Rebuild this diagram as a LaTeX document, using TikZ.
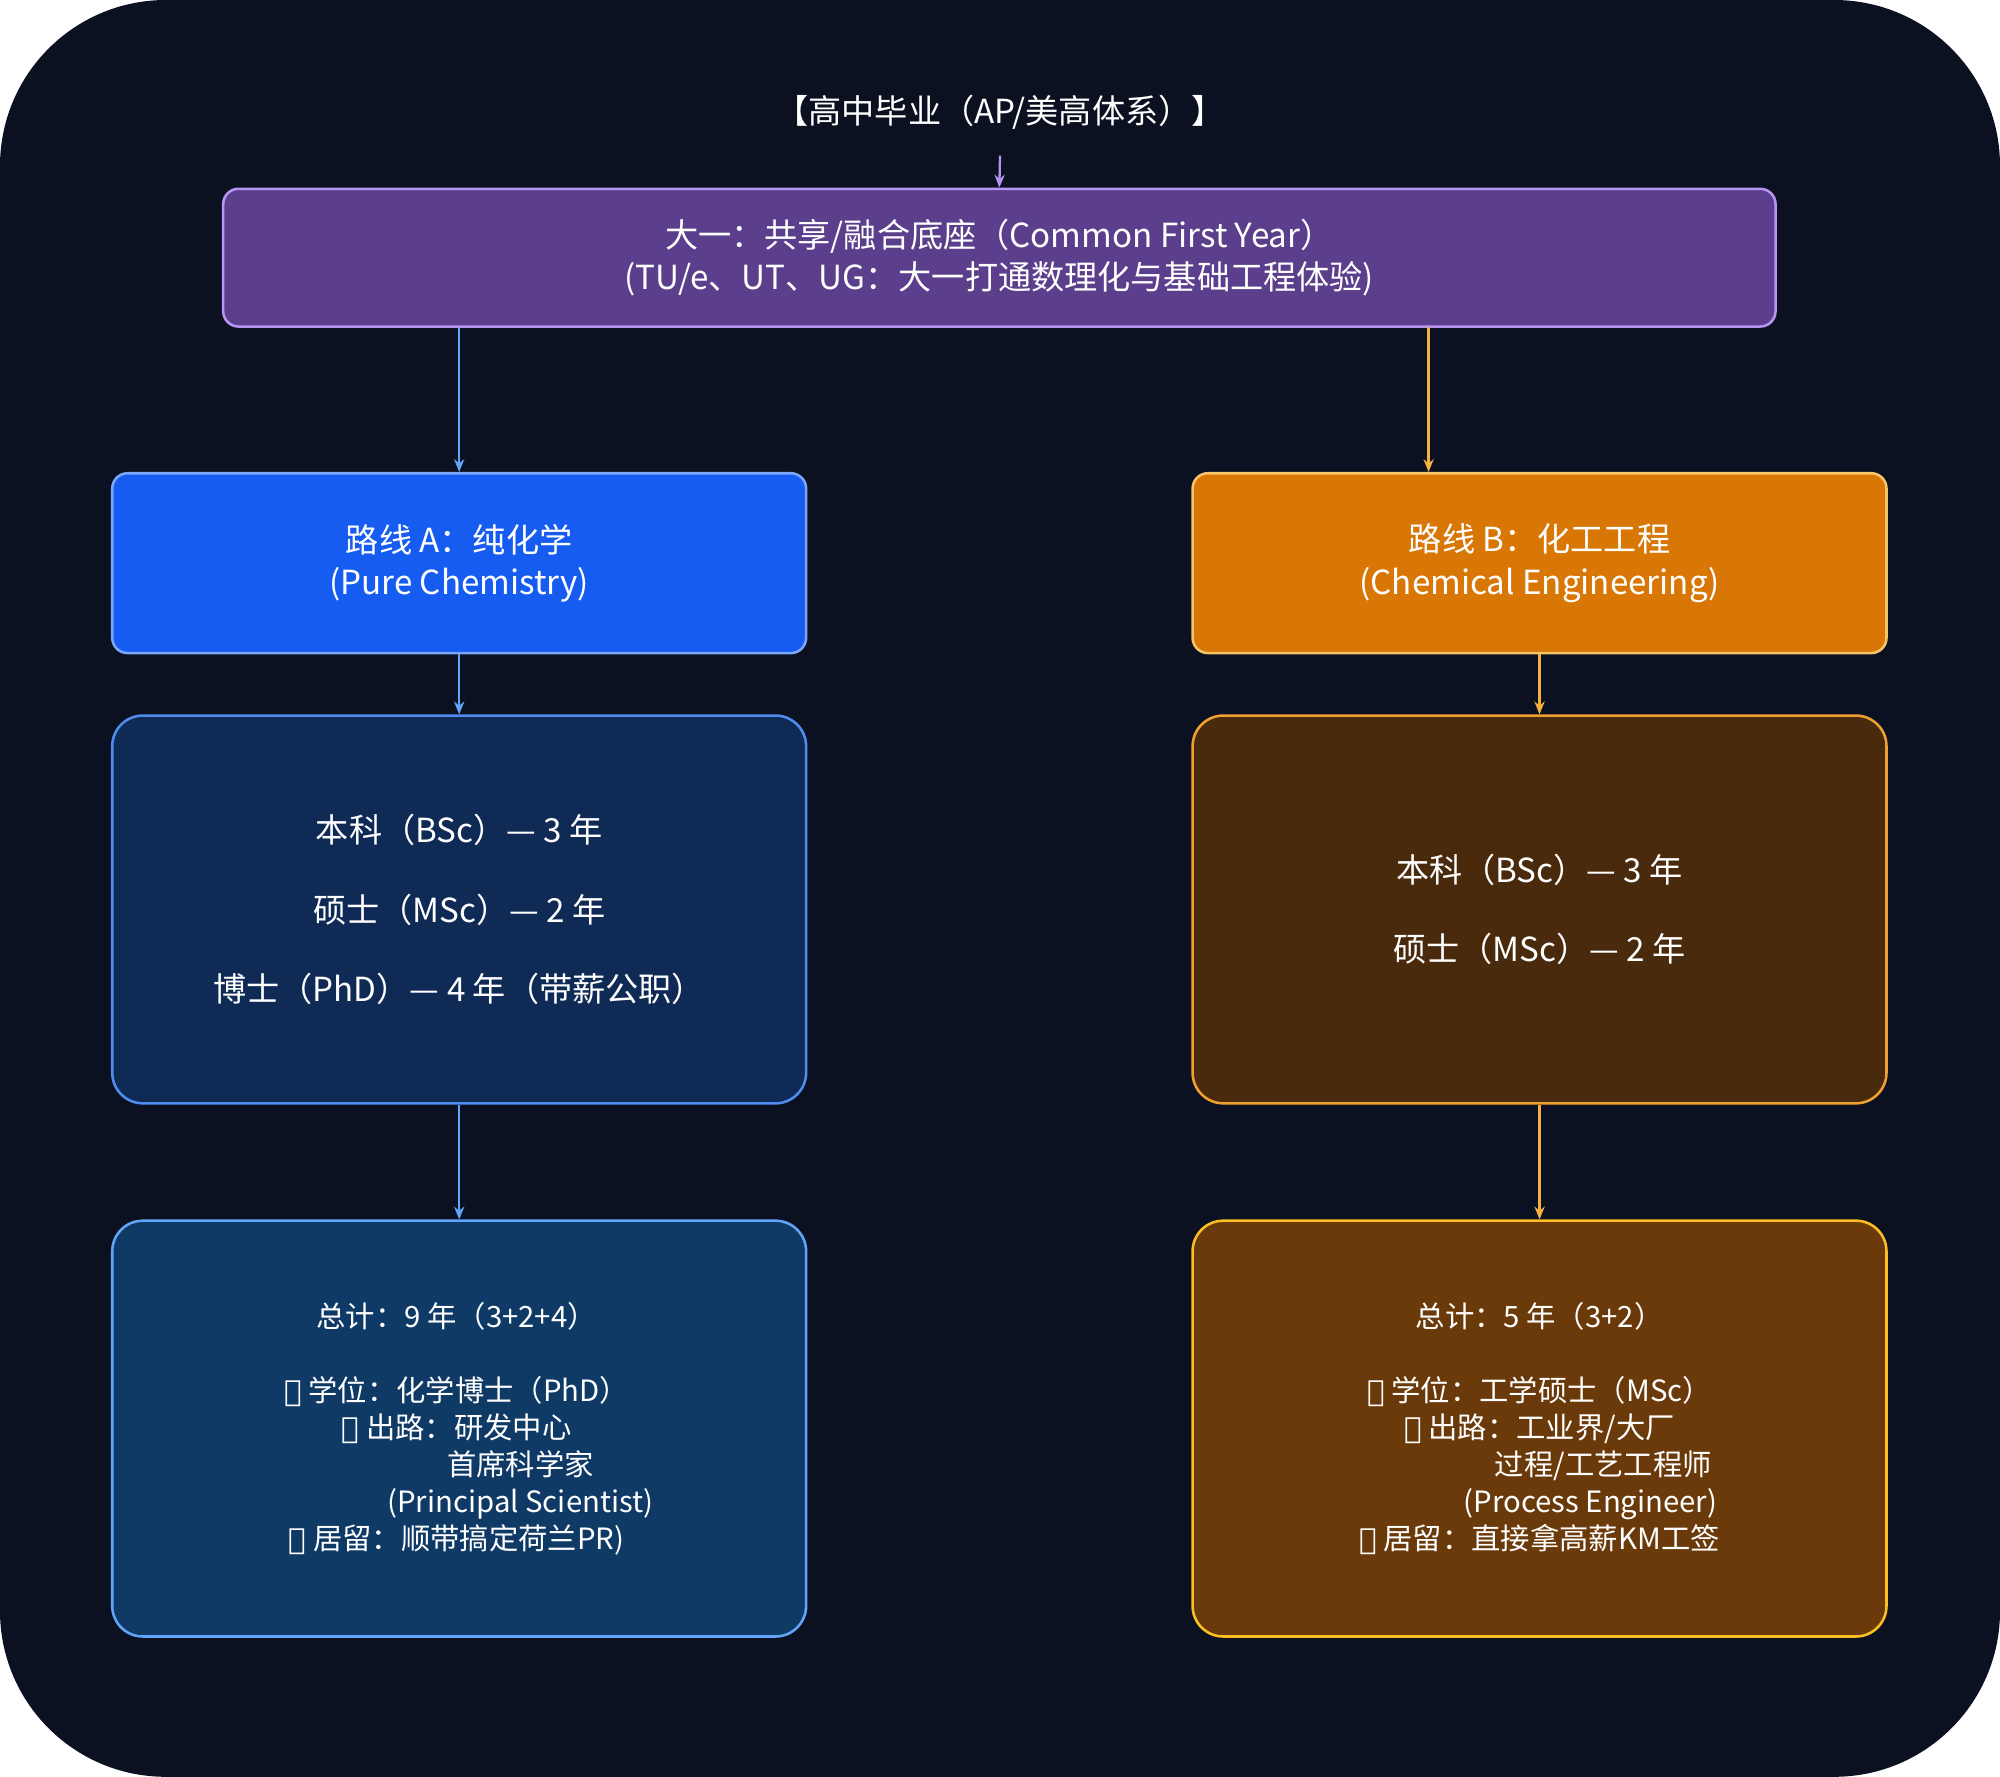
\documentclass[tikz,border=0pt]{standalone}
\usepackage{fontspec}
\setmainfont{Noto Sans CJK SC}
\newfontfamily\sym{DejaVu Sans}
\usetikzlibrary{arrows.meta}
\definecolor{bg}{HTML}{0B1120}
\definecolor{pf}{HTML}{5B3F8C}\definecolor{pd}{HTML}{B794F4}
\definecolor{af}{HTML}{175CF0}\definecolor{ad}{HTML}{7AA7FA}
\definecolor{bf}{HTML}{D97706}\definecolor{bd}{HTML}{F6C56A}
\definecolor{a2f}{HTML}{0F2A55}\definecolor{a2d}{HTML}{4F8CF0}
\definecolor{b2f}{HTML}{4A2A0C}\definecolor{b2d}{HTML}{F0A030}
\definecolor{a3f}{HTML}{0F3A66}\definecolor{a3d}{HTML}{60A5FA}
\definecolor{b3f}{HTML}{6B3A0A}\definecolor{b3d}{HTML}{FBBF24}
\definecolor{oa}{HTML}{F6B040}
\begin{document}
\begin{tikzpicture}[x=0.5pt,y=-0.5pt,
  box/.style={draw,line width=1pt,rounded corners=6pt,text=white,align=center,inner sep=0pt},
  big/.style={box,rounded corners=12pt},
  arr/.style={-{Stealth[length=5pt,width=4pt]},line width=0.9pt},
  t13/.style={font=\fontsize{13}{16.5}\selectfont},
  t12/.style={font=\fontsize{11.5}{14.5}\selectfont}]
\useasboundingbox (0,0) rectangle (1568,1393);
\fill[bg,rounded corners=65pt] (0,0) rectangle (1568,1393);
\node[text=white,t13] (t) at (784,88) {【高中毕业（AP/美高体系）】};
\node[box,fill=pf,draw=pd,minimum width=608.5pt,minimum height=54pt,t13] (p) at (783.5,202)
 {大一：共享/融合底座（Common First Year）\\(TU/e、UT、UG：大一打通数理化与基础工程体验)};
\node[box,fill=af,draw=ad,minimum width=272pt,minimum height=70.5pt,t13] (a) at (360,441.5)
 {路线 A：纯化学\\(Pure Chemistry)};
\node[box,fill=bf,draw=bd,minimum width=272pt,minimum height=70.5pt,t13] (b) at (1207,441.5)
 {路线 B：化工工程\\(Chemical Engineering)};
\node[big,fill=a2f,draw=a2d,minimum width=272pt,minimum height=152pt,
  font=\fontsize{13}{31}\selectfont] (a2) at (360,713)
 {本科（BSc）— 3 年\\硕士（MSc）— 2 年\\博士（PhD）— 4 年（带薪公职）};
\node[big,fill=b2f,draw=b2d,minimum width=272pt,minimum height=152pt,
  font=\fontsize{13}{31}\selectfont] (b2) at (1207,713)
 {本科（BSc）— 3 年\\硕士（MSc）— 2 年};
\node[big,fill=a3f,draw=a3d,minimum width=272pt,minimum height=163pt] (a3) at (360,1120) {};
\node[big,fill=b3f,draw=b3d,minimum width=272pt,minimum height=163pt] (b3) at (1207,1120) {};
\node[text=white,t12,align=center] (a3t) at (358,1120)
 {总计：9 年（3+2+4）\\[14.5pt]{\sym 🎓} 学位：化学博士（PhD）\\{\sym 💼} 出路：研发中心\\\hspace*{50pt}首席科学家\\\hspace*{50pt}(Principal Scientist)\\{\sym 🌐} 居留：顺带搞定荷兰PR)};
\node[text=white,t12,align=center] (b3t) at (1207,1120)
 {总计：5 年（3+2）\\[14.5pt]{\sym 🎓} 学位：工学硕士（MSc）\\{\sym 💼} 出路：工业界/大厂\\\hspace*{50pt}过程/工艺工程师\\\hspace*{40pt}(Process Engineer)\\{\sym 🌐} 居留：直接拿高薪KM工签};
\coordinate (po) at (1120,256);
\draw[arr,pd] (784,122) -- (p.north);
\draw[arr,a3d] (p.south -| a.north) -- (a.north);
\draw[arr,oa] (po) -- (po |- b.north);
\draw[arr,a3d] (a.south) -- (a2.north);
\draw[arr,oa] (b.south) -- (b2.north);
\draw[arr,a3d] (a2.south) -- (a3.north);
\draw[arr,oa] (b2.south) -- (b3.north);
\end{tikzpicture}
\end{document}
